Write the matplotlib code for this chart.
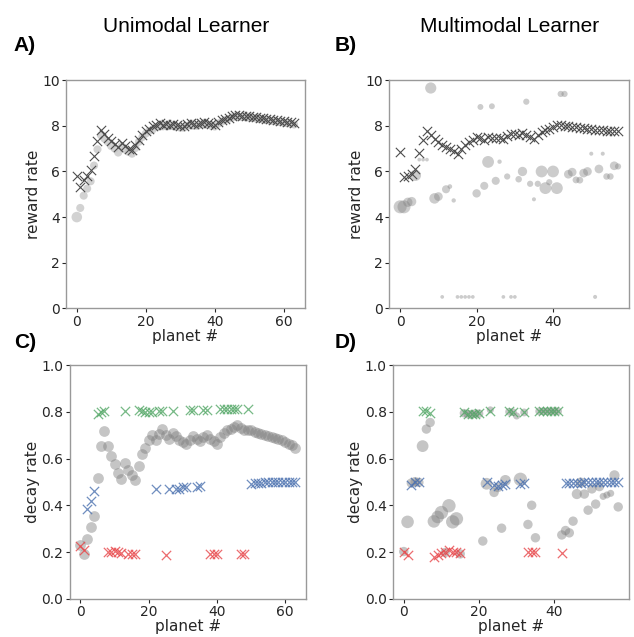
import numpy as np
import matplotlib.pyplot as plt

plt.rcParams['font.family'] = ['DejaVu Sans']

# A) unimodal learner, reward rate
a_cross = [5.79, 5.32, 5.64, 5.79, 6.05, 6.67, 7.34, 7.84, 7.66, 7.47, 7.32, 7.19, 7.08, 7.25, 7.13, 7.00,
           6.93, 7.15, 7.40, 7.59, 7.76, 7.88, 7.98, 8.06, 8.14, 8.06, 8.10, 8.06, 8.07, 8.03, 7.98, 7.98,
           8.07, 8.13, 8.07, 8.07, 8.13, 8.17, 8.13, 8.07, 8.03, 8.17, 8.25, 8.32, 8.36, 8.44, 8.49, 8.46,
           8.45, 8.44, 8.42, 8.40, 8.38, 8.36, 8.33, 8.31, 8.29, 8.27, 8.24, 8.22, 8.20, 8.18, 8.15, 8.12]
a_circ = [4.00, 4.40, 4.94, 5.25, 5.57, 6.26, 6.97, 7.59, 7.44, 7.30, 7.11, 7.00, 6.83, 7.11, 6.96, 6.86,
          6.78, 7.03, 7.30, 7.51, 7.66, 7.78, 7.84, 7.95, 8.03, 7.98, 8.02, 7.99, 8.00, 7.96, 7.92, 7.92,
          8.00, 8.06, 8.00, 8.00, 8.06, 8.10, 8.06, 8.00, 7.97, 8.10, 8.18, 8.25, 8.30, 8.37, 8.42, 8.40,
          8.39, 8.38, 8.36, 8.34, 8.32, 8.30, 8.27, 8.25, 8.23, 8.21, 8.18, 8.16, 8.14, 8.12, 8.09, 8.06]
a_conf = [3.4] + [2.6] * 63

# B) multimodal learner, reward rate
b_cross = [6.86, 5.77, 5.78, 5.90, 6.11, 6.80, 7.36, 7.76, 7.58, 7.43, 7.29, 7.18, 7.08, 6.99, 6.90, 6.77,
           6.99, 7.18, 7.30, 7.40, 7.51, 7.45, 7.40, 7.51, 7.48, 7.45, 7.45, 7.43, 7.55, 7.63, 7.63, 7.58,
           7.67, 7.58, 7.52, 7.43, 7.58, 7.74, 7.82, 7.88, 7.96, 8.05, 8.02, 8.00, 7.98, 7.96, 7.94, 7.92,
           7.90, 7.88, 7.86, 7.84, 7.82, 7.80, 7.79, 7.78, 7.77, 7.76]
b_circ = [4.45, 4.45, 4.65, 4.68, 5.83, 6.52, 6.52, 6.52, 9.66, 4.82, 4.90, 0.50, 5.22, 5.34, 4.73, 0.50,
          0.50, 0.50, 0.50, 0.50, 5.04, 8.83, 5.37, 6.42, 8.86, 5.59, 6.43, 0.50, 5.78, 0.50, 0.50, 5.66,
          6.00, 9.06, 5.46, 4.78, 5.46, 6.00, 5.27, 5.53, 6.00, 5.27, 9.40, 9.40, 5.88, 5.97, 5.63, 5.62,
          5.93, 6.00, 6.78, 0.50, 6.11, 6.78, 5.78, 5.78, 6.25, 6.22]
b_conf = [4.2, 4.2, 3.0, 3.0, 3.6, 1.2, 1.2, 1.2, 3.6, 3.4, 2.8, 1.2, 2.6, 1.5, 1.4, 1.2,
          1.2, 1.2, 1.2, 1.2, 2.7, 1.9, 2.6, 3.8, 1.9, 2.6, 1.4, 1.2, 2.0, 1.2, 1.2, 2.1,
          3.0, 2.0, 2.0, 1.3, 2.0, 3.8, 3.8, 2.0, 3.8, 3.8, 2.0, 2.0, 2.8, 2.8, 2.2, 2.2,
          2.8, 2.8, 1.3, 1.3, 2.8, 1.3, 2.1, 2.1, 2.8, 2.0]

# C) unimodal learner, decay rate
c_circ = [0.229, 0.192, 0.254, 0.306, 0.352, 0.517, 0.653, 0.717, 0.654, 0.610, 0.576, 0.540, 0.511, 0.579,
          0.551, 0.530, 0.508, 0.568, 0.619, 0.643, 0.678, 0.702, 0.678, 0.706, 0.725, 0.699, 0.685, 0.709,
          0.695, 0.678, 0.671, 0.661, 0.681, 0.696, 0.685, 0.674, 0.692, 0.699, 0.685, 0.674, 0.664, 0.692,
          0.709, 0.720, 0.727, 0.734, 0.742, 0.732, 0.720, 0.723, 0.720, 0.713, 0.709, 0.705, 0.701, 0.696,
          0.692, 0.688, 0.682, 0.678, 0.671, 0.664, 0.657, 0.647]
c_green_x = [5, 6, 7, 13, 17, 18, 19, 20, 21, 23, 24, 27, 32, 33, 36, 37, 41, 42, 43, 44, 45, 46, 49]
c_green_y = [0.79, 0.80, 0.805, 0.805, 0.808, 0.802, 0.80, 0.80, 0.80, 0.802, 0.805, 0.805, 0.808, 0.808,
             0.808, 0.808, 0.812, 0.812, 0.812, 0.812, 0.812, 0.812, 0.812]
c_blue_x = [2, 3, 4, 22, 26, 28, 29, 30, 31, 34, 35] + list(range(50, 64))
c_blue_y = [0.384, 0.419, 0.462, 0.469, 0.469, 0.470, 0.470, 0.477, 0.480, 0.478, 0.483,
            0.490, 0.495, 0.496, 0.497, 0.498, 0.499, 0.500, 0.500, 0.500, 0.499, 0.499, 0.499, 0.499, 0.499]
c_red_x = [0, 1, 8, 9, 10, 11, 12, 14, 15, 16, 25, 38, 39, 40, 47, 48]
c_red_y = [0.226, 0.209, 0.200, 0.200, 0.205, 0.198, 0.195, 0.190, 0.190, 0.190, 0.186, 0.190, 0.190,
           0.190, 0.192, 0.192]

# D) multimodal learner, decay rate
d_circ = [0.202, 0.329, 0.495, 0.501, 0.498, 0.653, 0.726, 0.754, 0.331, 0.350, 0.369, 0.198, 0.398, 0.329,
          0.342, 0.192, 0.794, 0.790, 0.788, 0.792, 0.792, 0.247, 0.492, 0.808, 0.455, 0.476, 0.302, 0.506,
          0.800, 0.798, 0.782, 0.511, 0.797, 0.318, 0.400, 0.261, 0.802, 0.802, 0.802, 0.802, 0.802, 0.802,
          0.273, 0.292, 0.282, 0.332, 0.448, 0.497, 0.448, 0.379, 0.470, 0.405, 0.480, 0.438, 0.444, 0.451,
          0.528, 0.393]
d_conf = [2.4, 3.2, 2.4, 2.4, 2.4, 3.0, 2.4, 2.4, 3.2, 3.2, 3.4, 2.4, 3.4, 3.4, 3.4, 2.4, 2.2, 2.2, 2.2, 2.2,
          2.2, 2.4, 3.0, 1.8, 2.4, 2.4, 2.4, 2.8, 2.0, 2.0, 1.8, 3.4, 2.0, 2.4, 2.4, 2.4, 2.0, 2.0, 2.0, 2.0,
          2.0, 2.0, 2.4, 2.4, 2.4, 2.4, 2.6, 2.6, 2.4, 2.4, 2.4, 2.4, 2.4, 1.8, 1.8, 1.8, 2.6, 2.4]
d_green_x = [5, 6, 7, 16, 17, 18, 19, 20, 23, 28, 29, 32, 36, 37, 38, 39, 40, 41]
d_green_y = [0.802, 0.802, 0.795, 0.798, 0.790, 0.792, 0.792, 0.795, 0.802, 0.802, 0.798, 0.798,
             0.802, 0.802, 0.802, 0.802, 0.802, 0.802]
d_blue_x = [2, 3, 4, 22, 24, 25, 26, 27, 31, 32] + list(range(43, 58))
d_blue_y = [0.485, 0.499, 0.499, 0.499, 0.485, 0.481, 0.488, 0.492, 0.491, 0.494,
            0.495, 0.495, 0.496, 0.497, 0.497, 0.498, 0.498, 0.499, 0.499, 0.499, 0.499, 0.499, 0.499,
            0.499, 0.499]
d_red_x = [0, 1, 8, 9, 10, 11, 12, 13, 14, 15, 33, 34, 35, 42]
d_red_y = [0.202, 0.186, 0.179, 0.186, 0.195, 0.200, 0.209, 0.202, 0.200, 0.195, 0.200, 0.200, 0.200,
           0.195]

green = '#55a868'
blue = '#4c72b0'
red = '#e8474a'

fig = plt.figure(figsize=(6.34, 6.37), dpi=100)
axA = fig.add_axes([0.104, 0.516, 0.377, 0.358])
axB = fig.add_axes([0.614, 0.516, 0.378, 0.358])
axC = fig.add_axes([0.110, 0.060, 0.373, 0.367])
axD = fig.add_axes([0.620, 0.060, 0.372, 0.367])


def style(ax, ylab):
    for s in ax.spines.values():
        s.set_color('0.6')
        s.set_linewidth(1.0)
    ax.tick_params(direction='out', length=3, width=0.8, color='0.15', labelsize=10,
                   labelcolor='0.15', pad=1.5)
    ax.set_xlabel('planet #', fontsize=11, color='0.15', labelpad=0)
    ax.set_ylabel(ylab, fontsize=11, color='0.15', labelpad=1)


xa = np.arange(len(a_cross))
axA.scatter(xa, a_circ, s=[c ** 2 * 5 for c in a_conf], color='0.78', alpha=0.8, lw=0)
axA.scatter(xa, a_cross, marker='x', s=45, color='0.3', lw=0.8)
axA.set_xlim(-3.15, 66.15)
axA.set_ylim(0, 10)
axA.set_yticks([0, 2, 4, 6, 8, 10])
style(axA, 'reward rate')

xb = np.arange(len(b_cross))
axB.scatter(xb, b_circ, s=[c ** 2 * 5 for c in b_conf], color='0.5', alpha=0.4, lw=0)
axB.scatter(xb, b_cross, marker='x', s=45, color='0.3', lw=0.8)
axB.set_xlim(-2.85, 59.85)
axB.set_ylim(0, 10)
axB.set_yticks([0, 2, 4, 6, 8, 10])
style(axB, 'reward rate')

xc = np.arange(len(c_circ))
axC.scatter(xc, c_circ, s=60, color='0.5', alpha=0.45, lw=0)
axC.scatter(c_green_x, c_green_y, marker='x', s=45, color=green, lw=0.9, alpha=0.8)
axC.scatter(c_blue_x, c_blue_y, marker='x', s=45, color=blue, lw=0.9, alpha=0.8)
axC.scatter(c_red_x, c_red_y, marker='x', s=45, color=red, lw=0.9, alpha=0.8)
axC.set_xlim(-3.15, 66.15)
axC.set_ylim(0, 1.0)
axC.set_yticks([0.0, 0.2, 0.4, 0.6, 0.8, 1.0])
style(axC, 'decay rate')

xd = np.arange(len(d_circ))
axD.scatter(xd, d_circ, s=[c ** 2 * 8 for c in d_conf], color='0.5', alpha=0.45, lw=0)
axD.scatter(d_green_x, d_green_y, marker='x', s=45, color=green, lw=0.9, alpha=0.8)
axD.scatter(d_blue_x, d_blue_y, marker='x', s=45, color=blue, lw=0.9, alpha=0.8)
axD.scatter(d_red_x, d_red_y, marker='x', s=45, color=red, lw=0.9, alpha=0.8)
axD.set_xlim(-2.85, 59.85)
axD.set_ylim(0, 1.0)
axD.set_yticks([0.0, 0.2, 0.4, 0.6, 0.8, 1.0])
style(axD, 'decay rate')

fig.text(0.293, 0.958, 'Unimodal Learner', ha='center', va='center', fontsize=15, family='Liberation Sans')
fig.text(0.803, 0.958, 'Multimodal Learner', ha='center', va='center', fontsize=15, family='Liberation Sans')
for lab, x, y in [('A)', 0.022, 0.928), ('B)', 0.528, 0.928), ('C)', 0.022, 0.462), ('D)', 0.528, 0.462)]:
    fig.text(x, y, lab, ha='left', va='center', fontsize=15, fontweight='bold', family='Liberation Sans')

plt.savefig('out.png', dpi=100)
